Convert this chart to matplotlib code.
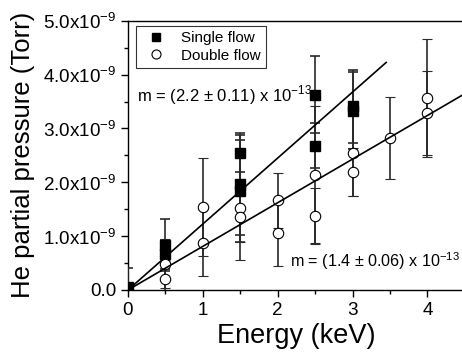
import numpy as np
import matplotlib
matplotlib.use('Agg')
import matplotlib.pyplot as plt
from matplotlib.lines import Line2D
from matplotlib.ticker import FuncFormatter, MultipleLocator

plt.rcParams['font.family'] = ['Liberation Sans', 'DejaVu Sans']
plt.rcParams['mathtext.fontset'] = 'custom'
plt.rcParams['mathtext.rm'] = 'Liberation Sans'

# Single flow: energy (keV), He pressure (1e-9 Torr), error (1e-9 Torr)
energy_single = [0.0, 0.5, 0.5, 1.5, 1.5, 1.5, 2.5, 2.5, 3.0, 3.0]
p_single = [0.05, 0.83, 0.66, 2.54, 1.97, 1.84, 3.63, 2.68, 3.41, 3.33]
err_single = [0.36, 0.48, 0.27, 0.34, 0.94, 0.95, 0.72, 0.42, 0.68, 0.71]

# Double flow
energy_double = [0.5, 0.5, 1.0, 1.0, 1.5, 1.5, 2.0, 2.0, 2.5, 2.5, 3.0, 3.0, 3.5, 4.0, 4.0]
p_double = [0.49, 0.21, 1.54, 0.88, 1.53, 1.36, 1.67, 1.06, 2.13, 1.38, 2.55, 2.19, 2.82, 3.57, 3.28]
err_double = [0.45, 0.35, 0.91, 0.62, 0.98, 0.47, 0.51, 0.62, 1.28, 0.51, 0.80, 0.44, 0.76, 1.10, 0.78]

# linear fits through the origin (1e-9 Torr per keV)
slope_single = 1.225
slope_double = 0.81
fit_end_single = 3.45
fit_end_double = 4.5

scale = 1e-9

fig = plt.figure(figsize=(4.62, 3.58), dpi=100)
ax = fig.add_axes([0.277, 0.19, 0.729, 0.752])

ax.errorbar(energy_single, np.array(p_single) * scale, yerr=np.array(err_single) * scale,
            fmt='s', color='black', ms=6.5, ecolor='#2a2a2a', elinewidth=1.2,
            capsize=3.5, capthick=1.2, zorder=3)
ax.errorbar(energy_double, np.array(p_double) * scale, yerr=np.array(err_double) * scale,
            fmt='o', color='black', mfc='white', mec='black', mew=0.8, ms=7.5,
            ecolor='#2a2a2a', elinewidth=1.2, capsize=3.5, capthick=1.2, zorder=3)

xs = np.array([0, fit_end_single])
ax.plot(xs, slope_single * xs * scale, color='black', lw=1.2, zorder=4)
xd = np.array([0, fit_end_double])
ax.plot(xd, slope_double * xd * scale, color='black', lw=1.2, zorder=4)

ax.text(0.12, 3.5e-9, r'm = (2.2 $\pm$ 0.11) x 10$^{\mathregular{-13}}$', fontsize=12)
ax.text(2.17, 0.42e-9, r'm = (1.4 $\pm$ 0.06) x 10$^{\mathregular{-13}}$', fontsize=11.6)

ax.set_xlim(0, 4.5)
ax.set_ylim(0, 5e-9)
ax.xaxis.set_major_locator(MultipleLocator(1))
ax.xaxis.set_minor_locator(MultipleLocator(0.5))
ax.yaxis.set_major_locator(MultipleLocator(1e-9))
ax.yaxis.set_minor_locator(MultipleLocator(0.5e-9))


def fmt_y(v, pos):
    if abs(v) < 1e-15:
        return '0.0'
    return r'%.1fx10$^{\mathregular{-9}}$' % (v / 1e-9)


ax.yaxis.set_major_formatter(FuncFormatter(fmt_y))
ax.tick_params(which='both', direction='out', labelsize=13.6, width=1)
ax.tick_params(which='major', length=5)
ax.tick_params(which='minor', length=3)
for s in ax.spines.values():
    s.set_linewidth(1)

ax.set_xlabel('Energy (keV)', fontsize=19.5, labelpad=3)
ax.set_ylabel('He partial pressure (Torr)', fontsize=18.5, labelpad=6)

# legend shows markers only
handles = [Line2D([], [], ls='none', marker='s', color='black', ms=6),
           Line2D([], [], ls='none', marker='o', mfc='white', mec='black', mew=0.8, ms=6.5)]
leg = ax.legend(handles, ['Single flow', 'Double flow'], loc='upper left',
                bbox_to_anchor=(0.023, 0.982), borderaxespad=0,
                fontsize=11, frameon=True, fancybox=False, edgecolor='black',
                handlelength=2.0, handletextpad=0.6, borderpad=0.35, labelspacing=0.25)
leg.get_frame().set_linewidth(0.8)

fig.savefig('out.png', dpi=100)
